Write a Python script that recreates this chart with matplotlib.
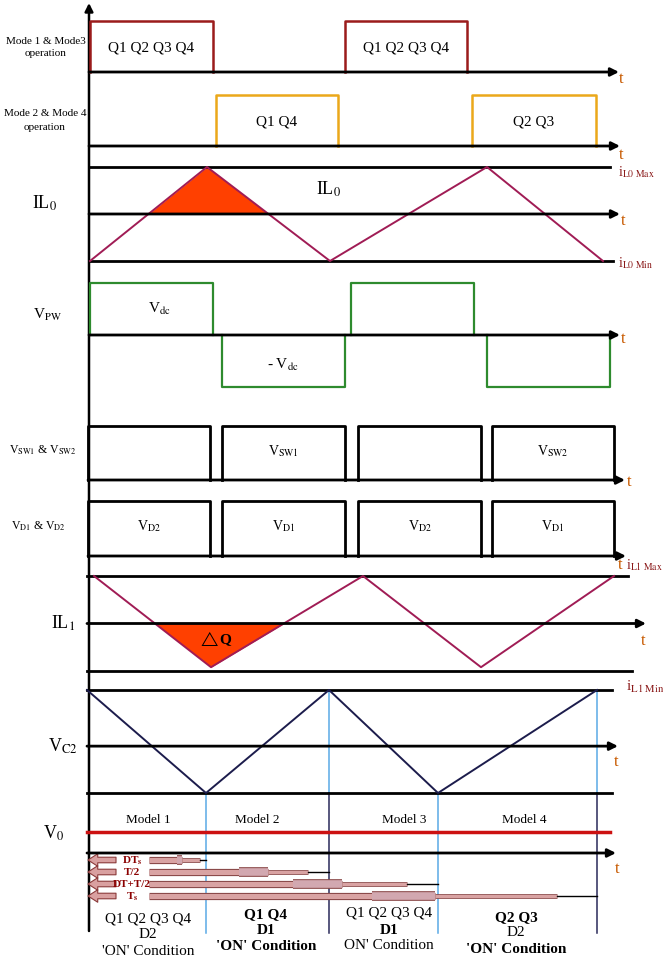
import numpy as np
import matplotlib.pyplot as plt
import matplotlib.patheffects as pe

plt.rcParams['font.family'] = ['Liberation Serif', 'DejaVu Serif']
plt.rcParams['mathtext.fontset'] = 'stix'

# ---- data (time axis: 0 = vertical axis) ----
mode13_on = [(1, 124), (256, 378)]
mode24_on = [(127, 249), (383, 507)]
mode13_txt = ["Q1 Q2 Q3 Q4", "Q1 Q2 Q3 Q4"]
mode24_txt = ["Q1 Q4", "Q2 Q3"]

il0_t = [1, 118, 241, 398, 514]
il0_v = [-1, 1, -1, 1, -1]

vpw_pos = [(1, 124), (262, 385)]
vpw_neg = [(133, 256), (398, 521)]

sw_boxes = [(-1, 121), (133, 256), (269, 392), (403, 525)]
sw_txt = ["", r"V$_{\mathrm{SW1}}$", "", r"V$_{\mathrm{SW2}}$"]
d_txt = [r"V$_{\mathrm{D2}}$", r"V$_{\mathrm{D1}}$", r"V$_{\mathrm{D2}}$", r"V$_{\mathrm{D1}}$"]

il1_t = [5, 122, 274, 392, 525]
il1_v = [1, -0.92, 1, -0.92, 1]

vc2_t = [-2, 117, 240, 349, 508]
vc2_v = [1, -1, 1, -1, 1]

mode_bounds = [117, 240, 349, 508]
model_names = ["Model 1", "Model 2", "Model 3", "Model 4"]
model_x = [59, 168, 315, 435]

interval_names = [r"DT$_{\mathbf{s}}$", "T/2", "DT+T/2", r"T$_{\mathbf{s}}$"]
interval_end = [117, 240, 349, 508]
interval_pink = [111, 219, 318, 468]
interval_bump = [(88, 93), (150, 179), (204, 253), (283, 346)]

col_x = [59, 177, 300, 427]
col_lines = [
    [("Q1 Q2 Q3 Q4", "normal"), ("D2", "normal"), ("'ON' Condition", "normal")],
    [("Q1 Q4", "bold"), ("D1", "bold"), ("'ON' Condition", "bold")],
    [("Q1 Q2 Q3 Q4", "normal"), ("D1", "bold"), ("ON' Condition", "normal")],
    [("Q2 Q3", "bold"), ("D2", "normal"), ("'ON' Condition", "bold")],
]

MAROON = '#9B1B1B'
GOLD = '#EBA81A'
TRI = '#A01C55'
FILL = '#FF4000'
GREEN = '#2E8B2E'
NAVY = '#1C1C4C'
BLUE = '#5AA9E6'
TCOL = '#C85A00'
DRED = '#8B1A1A'

W, H = 663, 962
XL = (-89, W - 89)
fig = plt.figure(figsize=(W / 100, H / 100), dpi=100)

ov = fig.add_axes([0, 0, 1, 1])
ov.set_xlim(*XL)
ov.set_ylim(H, 0)
ov.axis('off')


def row(y_top, y_bot, lo, hi):
    ax = fig.add_axes([0, 1 - y_bot / H, 1, (y_bot - y_top) / H])
    ax.set_xlim(*XL)
    ax.set_ylim(lo, hi)
    ax.axis('off')
    ax.patch.set_alpha(0)
    return ax


def t_axis(ax, x0, x1, y=0):
    ax.annotate('', xy=(x1, y), xytext=(x0, y),
                arrowprops=dict(arrowstyle='-|>', color='k', lw=2,
                                mutation_scale=12, shrinkA=0, shrinkB=0))


def pulses(ax, spans, lo, hi, color, lw=1.6):
    for s, e in spans:
        ax.plot([s, s, e, e], [lo, hi, hi, lo], color=color, lw=lw, clip_on=False)


# main vertical axis
ov.annotate('', xy=(0, 4), xytext=(0, 932),
            arrowprops=dict(arrowstyle='-|>', color='k', lw=1.8,
                            mutation_scale=12, shrinkA=0, shrinkB=0))

# ---- row 1: modes 1 & 3 ----
a1 = row(22, 73, 0, 1)
pulses(a1, mode13_on, 0, 1, MAROON, 1.8)
t_axis(a1, 0, 530)
for (s, e), txt in zip(mode13_on, mode13_txt):
    a1.text((s + e) / 2, 0.5, txt, ha='center', va='center', fontsize=11)

# ---- row 2: modes 2 & 4 ----
a2 = row(96, 147, 0, 1)
pulses(a2, mode24_on, 0, 1, GOLD, 1.8)
t_axis(a2, 0, 531)
for (s, e), txt in zip(mode24_on, mode24_txt):
    a2.text((s + e) / 2, 0.5, txt, ha='center', va='center', fontsize=11)

# ---- IL0 ----
a3 = row(168, 262, -1, 1)
a3.plot([1, 521], [1, 1], color='k', lw=2, clip_on=False)
a3.plot([1, 524], [-1, -1], color='k', lw=2, clip_on=False)
t_axis(a3, 0, 531)
tt = np.linspace(il0_t[0], il0_t[-1], 2000)
yy = np.interp(tt, il0_t, il0_v)
a3.fill_between(tt, yy, 0, where=(yy > 0) & (tt < il0_t[2]), color=FILL, lw=0)
a3.plot(il0_t, il0_v, color=TRI, lw=1.4, clip_on=False)

# ---- VPW ----
a4 = row(284, 388, -1, 1)
pulses(a4, vpw_pos, 0, 1, GREEN)
pulses(a4, vpw_neg, 0, -1, GREEN)
t_axis(a4, 0, 531)

# ---- VSW1 & VSW2 ----
a5 = row(427, 481, 0, 1)
t_axis(a5, -1, 536)
pulses(a5, sw_boxes, 0, 1, 'k', 2)
for (s, e), txt in zip(sw_boxes, sw_txt):
    a5.text((s + e) / 2, 0.55, txt, ha='center', va='center', fontsize=10)

# ---- VD1 & VD2 ----
a6 = row(502, 557, 0, 1)
t_axis(a6, -1, 537)
pulses(a6, sw_boxes, 0, 1, 'k', 2)
for (s, e), txt in zip(sw_boxes, d_txt):
    a6.text((s + e) / 2, 0.57, txt, ha='center', va='center', fontsize=10)

# ---- IL1 ----
a7 = row(577, 672, -1, 1)
a7.plot([-2, 539], [1, 1], color='k', lw=2, clip_on=False)
a7.plot([-2, 543], [-1, -1], color='k', lw=2, clip_on=False)
t_axis(a7, -2, 557)
tt = np.linspace(il1_t[0], il1_t[-1], 2000)
yy = np.interp(tt, il1_t, il1_v)
a7.fill_between(tt, yy, 0, where=(yy < 0) & (tt < il1_t[2]), color=FILL, lw=0)
a7.plot(il1_t, il1_v, color=TRI, lw=1.4, clip_on=False)
a7.text(127, -0.3, r'$\triangle$Q', ha='center', va='center', fontsize=11,
        fontweight='bold')

# ---- VC2 ----
a8 = row(691, 794, -1, 1)
a8.plot([-2, 523], [1, 1], color='k', lw=2, clip_on=False)
a8.plot([-2, 523], [-1, -1], color='k', lw=2, clip_on=False)
t_axis(a8, -2, 529, -0.09)
a8.plot(vc2_t, vc2_v, color=NAVY, lw=1.4, clip_on=False)

# mode dividers
div_top = [794, 691, 794, 691]
div_low = ['#5AA9E6', '#2A2A5A', '#5AA9E6', '#2A2A5A']
for x, yt, c in zip(mode_bounds, div_top, div_low):
    ov.plot([x, x], [yt, 794], color=BLUE, lw=1.1)
    ov.plot([x, x], [794, 934], color=c, lw=1.1)

# ---- V0 ----
a9 = row(833, 854, 0, 1)
a9.plot([-2, 521], [1, 1], color='#CC1111', lw=2.5, clip_on=False)
t_axis(a9, -2, 527)
for x, name in zip(model_x, model_names):
    ov.text(x, 820, name, ha='center', va='center', fontsize=9.5)

# interval arrows
arrow_y = [861, 873, 885, 897]
for y, name, end, pk, (b0, b1) in zip(arrow_y, interval_names, interval_end,
                                      interval_pink, interval_bump):
    ov.annotate('', xy=(-1, y), xytext=(27, y),
                arrowprops=dict(arrowstyle='simple,head_width=0.9,head_length=0.7,tail_width=0.4',
                                fc='#D9A0A0', ec='#8B3A3A', lw=0.8,
                                mutation_scale=10, shrinkA=0, shrinkB=0))
    ov.text(43, y, name, ha='center', va='center', fontsize=8,
            fontweight='bold', color='#8B0000')
    stroke = [pe.Stroke(linewidth=5.2, foreground='#8B4A4A'), pe.Normal()]
    ov.plot([60, b1], [y, y], color='#D9A3A3', lw=3.6, solid_capstyle='butt',
            path_effects=stroke)
    ov.plot([b0, b1], [y, y], color='#D2A8B0', lw=5.5, solid_capstyle='butt',
            path_effects=[pe.Stroke(linewidth=7, foreground='#8B4A4A'), pe.Normal()])
    ov.plot([b1, pk], [y, y], color='#D9A3A3', lw=2.2, solid_capstyle='butt',
            path_effects=[pe.Stroke(linewidth=3.4, foreground='#8B4A4A'), pe.Normal()])
    ov.plot([pk, end], [y, y], color='k', lw=1)

# bottom condition text
col_y = [[919, 935, 952], [915, 931, 947], [913, 931, 946], [918, 933, 950]]
for x, lines, ys in zip(col_x, col_lines, col_y):
    for (txt, wt), y in zip(lines, ys):
        ov.text(x, y, txt, ha='center', va='center', fontsize=11, fontweight=wt)

# left labels
ov.text(-43, 42, "Mode 1 & Mode3", ha='center', va='center', fontsize=8)
ov.text(-43, 54, "operation", ha='center', va='center', fontsize=8)
ov.text(-44, 114, "Mode 2 & Mode 4", ha='center', va='center', fontsize=8)
ov.text(-44, 127, "operation", ha='center', va='center', fontsize=8)
ov.text(-44, 203, r"IL$_{0}$", ha='center', va='center', fontsize=13)
ov.text(240, 189, r"IL$_{0}$", ha='center', va='center', fontsize=13)
ov.text(-41, 315, r"V$_{\mathrm{PW}}$", ha='center', va='center', fontsize=11)
ov.text(70, 309, r"V$_{\mathrm{dc}}$", ha='center', va='center', fontsize=11)
ov.text(194, 365, r"- V$_{\mathrm{dc}}$", ha='center', va='center', fontsize=11)
ov.text(-46, 450, r"V$_{\mathrm{SW1}}$ & V$_{\mathrm{SW2}}$", ha='center', va='center', fontsize=8.5)
ov.text(-51, 526, r"V$_{\mathrm{D1}}$ & V$_{\mathrm{D2}}$", ha='center', va='center', fontsize=8.5)
ov.text(-26, 623, r"IL$_{1}$", ha='center', va='center', fontsize=13)
ov.text(-26, 746, r"V$_{\mathrm{C2}}$", ha='center', va='center', fontsize=13)
ov.text(-35, 833, r"V$_{0}$", ha='center', va='center', fontsize=13)

# t labels
t_pos = [(532, 79), (532, 155), (534, 221), (534, 339), (540, 482),
         (531, 565), (554, 641), (527, 762), (528, 869)]
for x, y in t_pos:
    ov.text(x, y, "t", ha='center', va='center', fontsize=12, color=TCOL)

# current limit labels
ov.text(529, 172, r"i$_{\mathrm{L0\ Max}}$", ha='left', va='center', fontsize=10, color=DRED)
ov.text(529, 263, r"i$_{\mathrm{L0\ Min}}$", ha='left', va='center', fontsize=10, color=DRED)
ov.text(537, 565, r"i$_{\mathrm{L1\ Max}}$", ha='left', va='center', fontsize=10, color=DRED)
ov.text(537, 687, r"i$_{\mathrm{L1\ Min}}$", ha='left', va='center', fontsize=11, color=DRED)

fig.savefig("out.png", dpi=100)
